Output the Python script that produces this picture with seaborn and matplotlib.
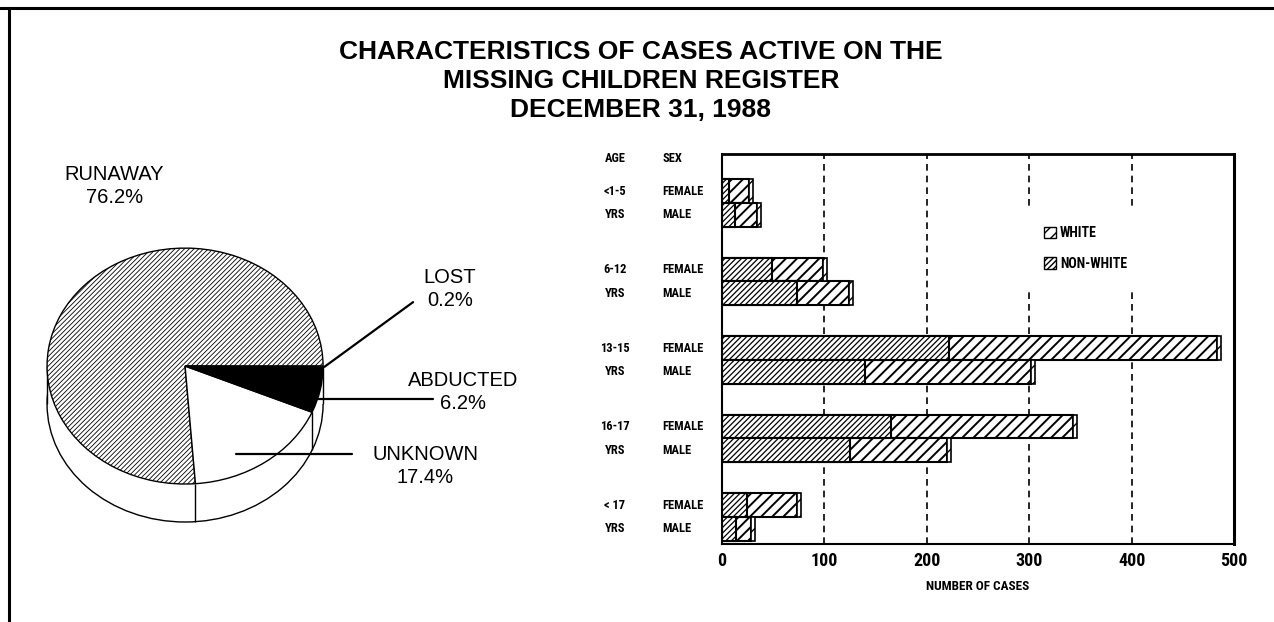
import numpy as np
import pandas as pd
import matplotlib
matplotlib.use('Agg')
import matplotlib.pyplot as plt
import matplotlib.transforms as mtransforms
from matplotlib.patches import Patch, Rectangle, Ellipse
from matplotlib.lines import Line2D
from matplotlib.font_manager import FontProperties
import seaborn as sns

# ---- dados do grafico de pizza ----
reasons = ['RUNAWAY', 'UNKNOWN', 'ABDUCTED', 'LOST']
shares = [76.2, 17.4, 6.2, 0.2]

# ---- dados das barras (numero de casos) ----
age_groups = ['<1-5', '6-12', '13-15', '16-17', '< 17']
sexes = ['FEMALE', 'MALE']
nonwhite_female = [7, 49, 222, 165, 24]
white_female = [19, 50, 261, 178, 49]
nonwhite_male = [13, 73, 140, 125, 14]
white_male = [21, 51, 162, 95, 14]
x_ticks = [0, 100, 200, 300, 400, 500]

sns.set_style('white')
plt.rcParams['font.family'] = ['Liberation Sans', 'DejaVu Sans']
plt.rcParams['text.color'] = 'black'
plt.rcParams['axes.labelcolor'] = 'black'
plt.rcParams['xtick.color'] = 'black'
plt.rcParams['ytick.color'] = 'black'
plt.rcParams['hatch.linewidth'] = 1.0

narrow = ['Roboto Condensed', 'Liberation Sans Narrow', 'DejaVu Sans']
cond = dict(family=narrow, fontstretch='condensed', fontweight='bold')

fig = plt.figure(figsize=(12.74, 6.22), dpi=100)

# moldura da pagina
fig.add_artist(Line2D([0, 1], [0.987, 0.987], color='black', lw=2.2, transform=fig.transFigure))
fig.add_artist(Line2D([0.007, 0.007], [0, 0.987], color='black', lw=2.2, transform=fig.transFigure))

fig.text(0.503, 0.870, 'CHARACTERISTICS OF CASES ACTIVE ON THE\nMISSING CHILDREN REGISTER\nDECEMBER 31, 1988',
         ha='center', va='center', fontsize=19, fontweight='bold', linespacing=1.27)

# ==========================================
# Pizza "3D"
# ==========================================
axp = fig.add_axes([0.0118, 0.0997, 0.4396, 0.659])
depth = 0.322

axp.add_patch(Ellipse((0, -depth), 2, 2, facecolor='white', edgecolor='black', lw=1, zorder=1))
axp.add_patch(Rectangle((-1, -depth), 2, depth, facecolor='white', edgecolor='none', zorder=2))
axp.vlines([-1, 1], -depth, 0, color='black', lw=1, zorder=3)

wedges, _ = axp.pie(shares, startangle=0, counterclock=True,
                    colors=['white', 'white', 'black', 'white'],
                    wedgeprops=dict(edgecolor='black', linewidth=1, zorder=4))
wedges[0].set_hatch('///////')
if hasattr(wedges[0], 'set_hatch_linewidth'):
    wedges[0].set_hatch_linewidth(0.6)

# divisoes visiveis na lateral
bounds = np.concatenate([[0], np.cumsum(shares) / np.sum(shares) * 360])
for th in np.radians(bounds):
    if np.sin(th) < -0.05:
        axp.vlines(np.cos(th), np.sin(th) - depth, np.sin(th), color='black', lw=1, zorder=3)

axp.set_aspect('auto')
axp.set_xlim(-1.232, 2.826)
axp.set_ylim(-1.644, 1.831)
axp.axis('off')

label_pos = [(-0.514, 1.525), (1.739, -0.847), (2.014, -0.22), (1.92, 0.653)]
for name, pct, (tx, ty) in zip(reasons, shares, label_pos):
    axp.text(tx, ty, f'{name}\n{pct}%', ha='center', va='center', fontsize=14.5, linespacing=1.3)

# linhas de chamada: (fatia, posicao relativa na fatia, raio, fim)
for i, frac, r, end in [(1, 0.35, 0.83, (1.21, None)),
                        (2, 0.3, 0.98, (1.797, None)),
                        (3, 0.5, 1.01, (1.652, 0.542))]:
    th = np.radians(bounds[i] + frac * (bounds[i + 1] - bounds[i]))
    sx, sy = r * np.cos(th), r * np.sin(th)
    ex, ey = end[0], (sy if end[1] is None else end[1])
    axp.plot([sx, ex], [sy, ey], color='black', lw=1.6, zorder=6, clip_on=False)

# ==========================================
# Barras empilhadas
# ==========================================
df = pd.DataFrame({
    'age': age_groups * 2,
    'sex': ['FEMALE'] * 5 + ['MALE'] * 5,
    'nonwhite': nonwhite_female + nonwhite_male,
    'white': white_female + white_male,
})
df['total'] = df['nonwhite'] + df['white']

axb = fig.add_axes([0.5667, 0.1254, 0.4019, 0.627])
common = dict(y='age', hue='sex', order=age_groups, hue_order=sexes, orient='h',
              palette={'FEMALE': 'white', 'MALE': 'white'}, saturation=1, width=0.611,
              dodge=True, legend=False, edgecolor='black', linewidth=1.5, errorbar=None, ax=axb)
sns.barplot(data=df, x='total', **common)
sns.barplot(data=df, x='nonwhite', **common)

for k, c in enumerate(axb.containers):
    for bar in c:
        bar.set_hatch('///' if k < 2 else '//////')
        if hasattr(bar, 'set_hatch_linewidth'):
            bar.set_hatch_linewidth(1.4 if k < 2 else 0.9)

# pequena face lateral no fim de cada barra
for c in axb.containers[:2]:
    for bar in c:
        axb.add_patch(Rectangle((bar.get_x() + bar.get_width(), bar.get_y()), 4, bar.get_height(),
                                facecolor='white', edgecolor='black', hatch='//', lw=1.2))

axb.set_xlim(0, 500)
axb.set_ylim(4.344, -0.624)
axb.set_xticks(x_ticks)
axb.set_xticklabels([str(t) for t in x_ticks], fontsize=13, **cond)
axb.tick_params(axis='x', length=0, pad=6)
axb.tick_params(axis='y', left=False, labelleft=False)
axb.set_ylabel('')
axb.set_xlabel('NUMBER OF CASES', fontsize=9.5, labelpad=7, **cond)

axb.set_axisbelow(True)
axb.xaxis.grid(True, linestyle=(0, (4, 3)), color='black', lw=1.2)
axb.yaxis.grid(False)
for side, lw in [('left', 1.5), ('bottom', 1.5), ('top', 2.0), ('right', 2.2)]:
    axb.spines[side].set_visible(True)
    axb.spines[side].set_color('black')
    axb.spines[side].set_linewidth(lw)

trans = mtransforms.blended_transform_factory(axb.transAxes, axb.transData)
off = 0.611 / 4
small = dict(fontsize=9, **cond)
axb.text(-0.209, -0.573, 'AGE', transform=trans, ha='center', va='center', **small)
axb.text(-0.117, -0.573, 'SEX', transform=trans, ha='left', va='center', **small)
for i, age in enumerate(age_groups):
    axb.text(-0.209, i - off, age, transform=trans, ha='center', va='center', **small)
    axb.text(-0.209, i + off, 'YRS', transform=trans, ha='center', va='center', **small)
    axb.text(-0.117, i - off, 'FEMALE', transform=trans, ha='left', va='center', **small)
    axb.text(-0.117, i + off, 'MALE', transform=trans, ha='left', va='center', **small)

handles = [Patch(facecolor='white', edgecolor='black', hatch='///', label='WHITE'),
           Patch(facecolor='white', edgecolor='black', hatch='//////', label='NON-WHITE')]
leg_font = FontProperties(family=narrow, size=10, weight='bold', stretch='condensed')
axb.legend(handles=handles, loc='upper left', bbox_to_anchor=(0.59, 0.865), frameon=True,
           fancybox=False, edgecolor='white', facecolor='white', framealpha=1, prop=leg_font,
           handlelength=0.9, handleheight=0.9, handletextpad=0.3, labelspacing=1.2,
           borderpad=1.4, borderaxespad=0)

fig.savefig('out.png', dpi=100)
